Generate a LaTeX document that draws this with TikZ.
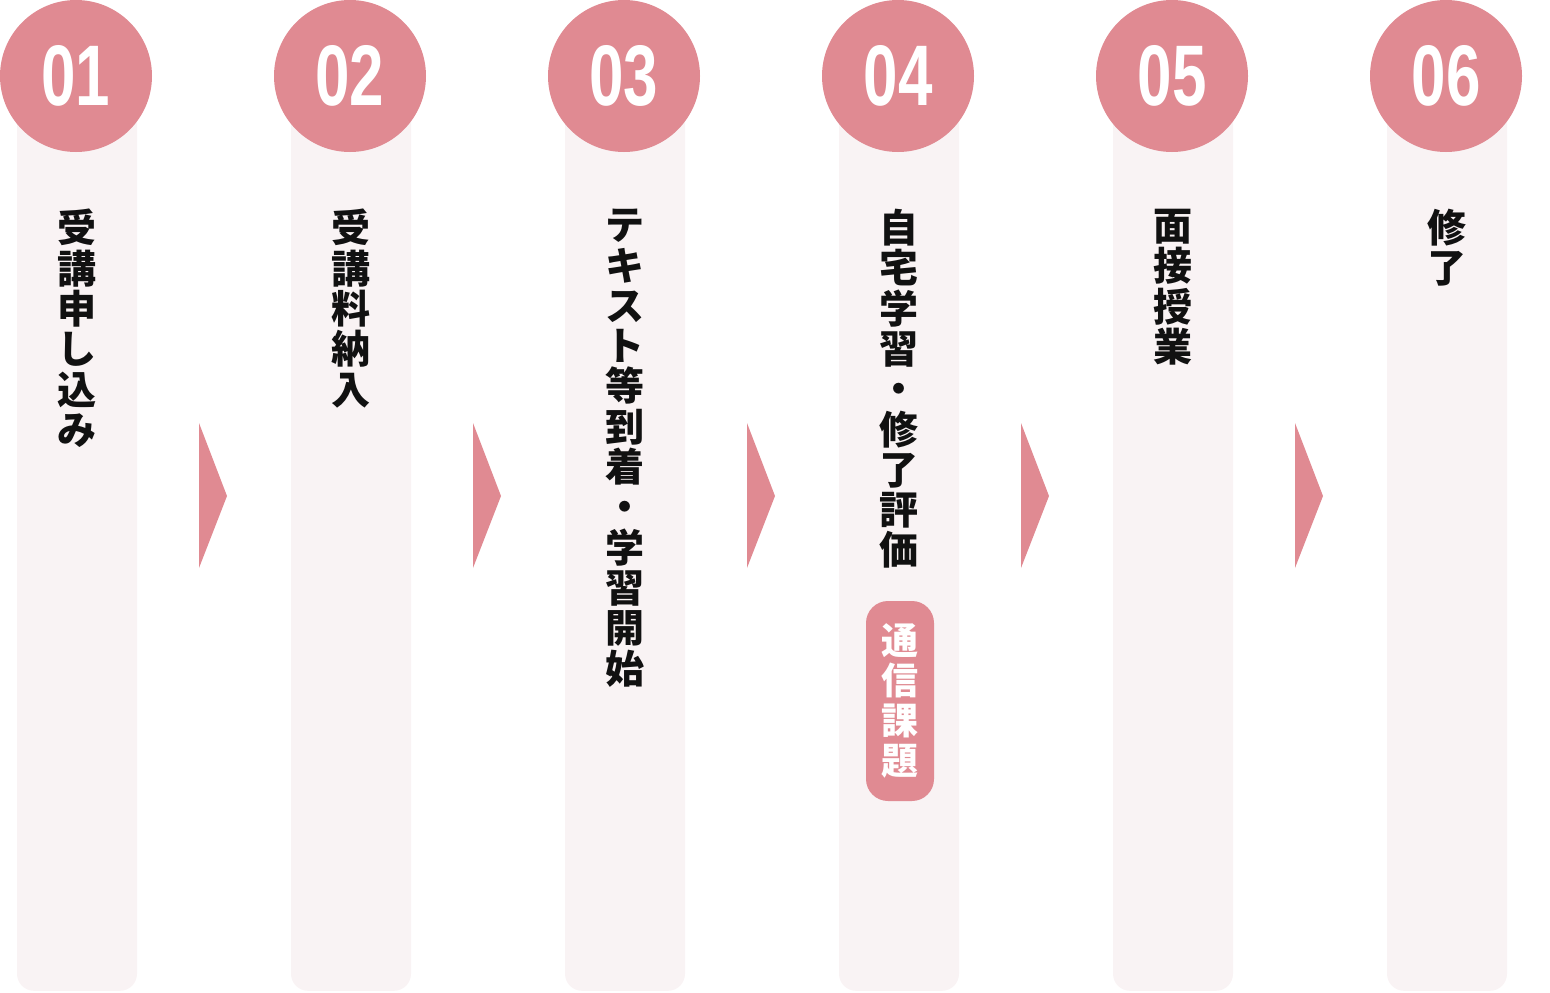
\documentclass[tikz,border=0pt]{standalone}
\usepackage{fontspec}
\usepackage{xcolor}
\usepackage{tikz}
\newfontfamily\cjk{Noto Sans CJK JP}
\newfontfamily\numfont[FakeStretch=0.72]{Liberation Sans}
\definecolor{stepPink}{RGB}{224,138,146}
\definecolor{colBack}{RGB}{249,243,244}
\definecolor{inkBlack}{RGB}{17,17,17}
\tikzset{
  stepcol/.style={fill=colBack, rounded corners=17pt, minimum width=120pt, minimum height=915pt, anchor=south, inner sep=0pt},
  stepnum/.style={circle, fill=stepPink, minimum size=152pt, inner sep=0pt, text=white, font=\numfont\bfseries\fontsize{86}{86}\selectfont},
  steplabel/.style={anchor=north, align=center, inner sep=0pt, text=inkBlack, font=\cjk\bfseries\fontsize{39}{40.3}\selectfont},
  badge/.style={fill=stepPink, rounded corners=22pt, minimum width=68pt, minimum height=200pt, inner sep=0pt, align=center, text=white, font=\cjk\bfseries\fontsize{37}{40}\selectfont},
  arrowtri/.style={fill=stepPink}
}

\begin{document}
\begin{tikzpicture}[x=1pt,y=-1pt]
\useasboundingbox (0,0) rectangle (1550,993);

% Draw the pale columns
\node[stepcol] (col1) at (77,991) {};
\node[stepcol] (col2) at (351,991) {};
\node[stepcol] (col3) at (625,991) {};
\node[stepcol] (col4) at (899,991) {};
\node[stepcol] (col5) at (1173,991) {};
\node[stepcol] (col6) at (1447,991) {};

% Step numbers
\node[stepnum] (num1) at (76,76) {01};
\node[stepnum] (num2) at (350,76) {02};
\node[stepnum] (num3) at (624,76) {03};
\node[stepnum] (num4) at (898,76) {04};
\node[stepnum] (num5) at (1172,76) {05};
\node[stepnum] (num6) at (1446,76) {06};

% Vertical step labels
\node[steplabel] (lab1) at (77,209) {受\\講\\申\\し\\込\\み};
\node[steplabel] (lab2) at (351,209) {受\\講\\料\\納\\入};
\node[steplabel] (lab3) at (625,209) {テ\\キ\\ス\\ト\\等\\到\\着\\・\\学\\習\\開\\始};
\node[steplabel] (lab4) at (899,209) {自\\宅\\学\\習\\・\\修\\了\\評\\価};
\node[steplabel] (lab5) at (1173,209) {面\\接\\授\\業};
\node[steplabel] (lab6) at (1447,209) {修\\了};

% Tag under step 04
\node[badge] (tag4) at (900,701) {通\\信\\課\\題};

% Arrows between steps
\fill[arrowtri] (199,423) -- (227,496) -- (199,568) -- cycle;
\fill[arrowtri] (473,423) -- (501,496) -- (473,568) -- cycle;
\fill[arrowtri] (747,423) -- (775,496) -- (747,568) -- cycle;
\fill[arrowtri] (1021,423) -- (1049,496) -- (1021,568) -- cycle;
\fill[arrowtri] (1295,423) -- (1323,496) -- (1295,568) -- cycle;
\end{tikzpicture}
\end{document}
